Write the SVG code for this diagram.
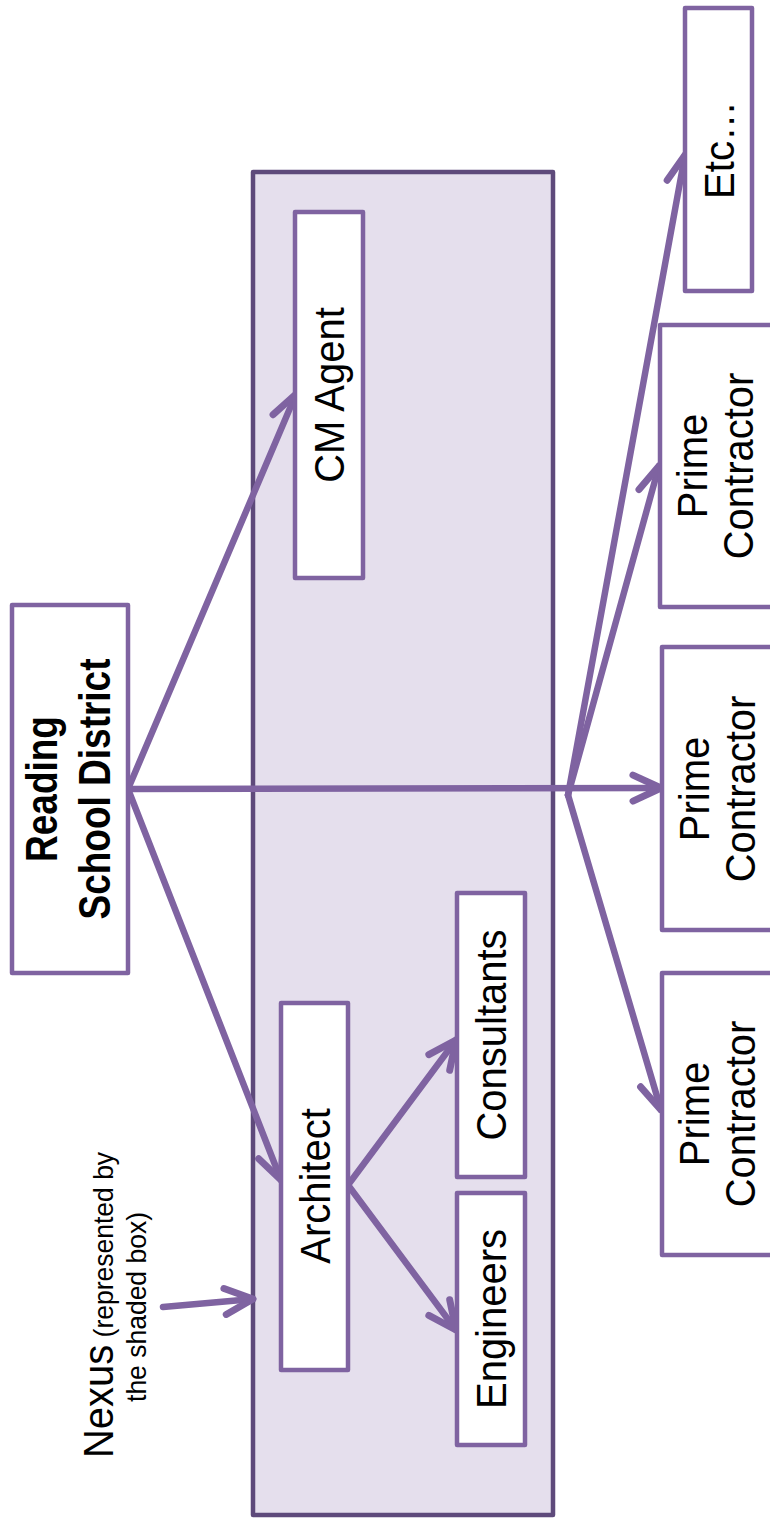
<svg xmlns="http://www.w3.org/2000/svg" width="770" height="1520" viewBox="0 0 770 1520">
<defs>
<marker id="arr" viewBox="0 0 40 40" refX="36" refY="20" markerWidth="40" markerHeight="40" orient="auto" markerUnits="userSpaceOnUse">
<path d="M8,7 L36,20 L8,33" fill="none" stroke="#7f63a1" stroke-width="7" stroke-linecap="round" stroke-linejoin="round"/>
</marker>
</defs>
<style>
.box{fill:#ffffff;stroke:#7f63a1;stroke-width:4.5;stroke-linejoin:round}
.nexus{fill:#e5dfed;stroke:#5e4a7b;stroke-width:4.5;stroke-linejoin:round}
.lbl{font-family:"Liberation Sans",Arial,sans-serif;font-size:40px;fill:#000;text-anchor:middle}
.bold{font-weight:bold;font-size:37px}
.small{font-size:26.5px}
.con{fill:none;stroke:#7f63a1;stroke-width:6.5;stroke-linecap:round;stroke-linejoin:round;marker-end:url(#arr)}
</style>
<rect width="770" height="1520" fill="#ffffff"/>

<g id="nexus-area">
<rect class="nexus" x="253" y="172" width="300" height="1343"/>
</g>

<g id="connectors">
<line class="con" x1="128" y1="789" x2="296" y2="394"/>
<line class="con" x1="128" y1="789" x2="281" y2="1180"/>
<line class="con" x1="128" y1="789" x2="661" y2="788"/>
<line class="con" x1="568" y1="795" x2="685" y2="155"/>
<line class="con" x1="568" y1="795" x2="659" y2="466"/>
<line class="con" x1="568" y1="795" x2="661" y2="1110"/>
<line class="con" x1="348" y1="1185" x2="456" y2="1040"/>
<line class="con" x1="348" y1="1185" x2="456" y2="1330"/>
<line class="con" x1="163" y1="1307" x2="253" y2="1299"/>
</g>

<g id="reading">
<rect class="box" x="12" y="605" width="116" height="368"/>
<text class="lbl bold" transform="translate(57,789) rotate(-90) scale(1,1.18)"><tspan x="0" y="0">Reading</tspan><tspan x="0" y="45">School District</tspan></text>
</g>

<g id="cm-agent">
<rect class="box" x="295" y="212" width="68" height="366"/>
<text class="lbl" transform="translate(344,395) rotate(-90) scale(1,1.05)">CM Agent</text>
</g>

<g id="architect">
<rect class="box" x="281" y="1003" width="67" height="367"/>
<text class="lbl" transform="translate(330,1186) rotate(-90) scale(1,1.05)">Architect</text>
</g>

<g id="consultants">
<rect class="box" x="457" y="893" width="68" height="284"/>
<text class="lbl" transform="translate(506,1035) rotate(-90) scale(1,1.05)">Consultants</text>
</g>

<g id="engineers">
<rect class="box" x="457" y="1193" width="68" height="252"/>
<text class="lbl" transform="translate(506,1319) rotate(-90) scale(1,1.05)">Engineers</text>
</g>

<g id="etc">
<rect class="box" x="685" y="8" width="67" height="283"/>
<text class="lbl" transform="translate(734,150) rotate(-90) scale(1,1.05)">Etc…</text>
</g>

<g id="prime-1">
<rect class="box" x="660" y="325" width="130" height="282"/>
<text class="lbl" transform="translate(707,466) rotate(-90) scale(1,1.05)"><tspan x="0" y="0">Prime</tspan><tspan x="0" y="44">Contractor</tspan></text>
</g>

<g id="prime-2">
<rect class="box" x="662" y="647" width="130" height="283"/>
<text class="lbl" transform="translate(709,789) rotate(-90) scale(1,1.05)"><tspan x="0" y="0">Prime</tspan><tspan x="0" y="44">Contractor</tspan></text>
</g>

<g id="prime-3">
<rect class="box" x="662" y="973" width="130" height="282"/>
<text class="lbl" transform="translate(709,1114) rotate(-90) scale(1,1.05)"><tspan x="0" y="0">Prime</tspan><tspan x="0" y="44">Contractor</tspan></text>
</g>

<g id="nexus-label">
<text class="lbl" transform="translate(113,1305) rotate(-90) scale(1,1.05)"><tspan x="0" y="0">Nexus<tspan class="small"> (represented by</tspan></tspan></text>
<text class="lbl small" transform="translate(146,1307) rotate(-90) scale(1,1.05)">the shaded box)</text>
</g>
</svg>
